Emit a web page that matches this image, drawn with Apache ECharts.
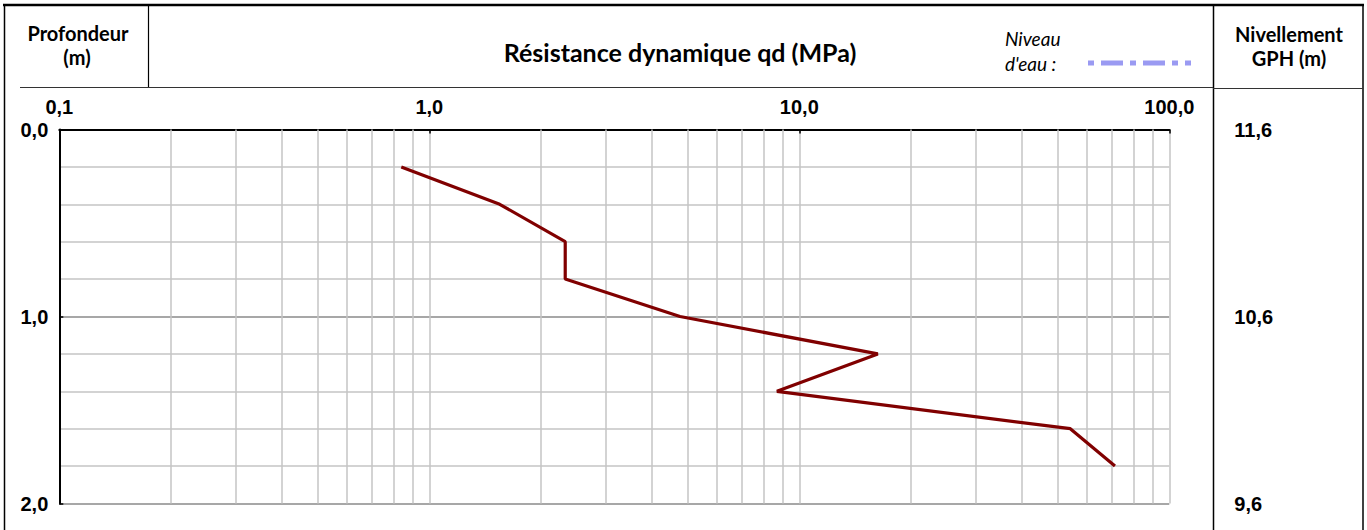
<!DOCTYPE html>
<html><head><meta charset="utf-8">
<script src="https://cdn.jsdelivr.net/npm/echarts@6/dist/echarts.min.js"></script>
<style>html,body{margin:0;padding:0;background:#fff}#c{width:1367px;height:530px}</style>
</head><body><div id="c"></div>
<script>
// Data
const depths = [0.2, 0.4, 0.6, 0.8, 1.0, 1.2, 1.4, 1.6, 1.8];
const qd = [0.84, 1.55, 2.33, 2.33, 4.76, 16.3, 8.7, 54, 71.3];
const xTickValues = [0.1, 1, 10, 100];
const xTickLabels = ['0,1', '1,0', '10,0', '100,0'];
const depthTickLabels = ['0,0', '1,0', '2,0'];
const levelTickLabels = ['11,6', '10,6', '9,6'];
const minorGridX = [0.2, 0.3, 0.4, 0.5, 0.6, 0.7, 0.8, 0.9, 2, 3, 4, 5, 6, 7, 8, 9, 20, 30, 40, 50, 60, 70, 80, 90];

const chart = echarts.init(document.getElementById('c'), null, {renderer: 'svg'});
const lblFont = {fontFamily: 'Liberation Sans, Arial, sans-serif', fontWeight: 'bold', fontSize: 20, color: '#000'};
const hdrFont = 'Lato, sans-serif';

const option = {
  animation: false,
  grid: {left: 59.3, top: 129.5, width: 1110, height: 374, containLabel: false},
  xAxis: {
    type: 'log', logBase: 10, min: 0.1, max: 100, position: 'top',
    axisLine: {show: true, lineStyle: {color: '#000', width: 2}},
    axisTick: {show: true, inside: true, length: 4, lineStyle: {color: '#000', width: 1.5}},
    axisLabel: Object.assign({margin: 13, formatter: function (v) {
      for (let i = 0; i < xTickValues.length; i++) if (Math.abs(Math.log10(v) - Math.log10(xTickValues[i])) < 1e-6) return xTickLabels[i];
      return '';
    }}, lblFont),
    splitLine: {show: true, lineStyle: {color: '#c4c4c4', width: 1.5}}
  },
  yAxis: [{
    type: 'value', min: 0, max: 2, interval: 1, inverse: true,
    axisLine: {show: true, lineStyle: {color: '#000', width: 2}},
    axisTick: {show: true, inside: true, length: 4, lineStyle: {color: '#000', width: 1.5}},
    axisLabel: Object.assign({margin: 11, formatter: function (v, i) { return depthTickLabels[Math.round(v)] || ''; }}, lblFont),
    splitLine: {show: true, lineStyle: {color: '#8a8a8a', width: 1.5}},
    minorTick: {show: false, splitNumber: 5},
    minorSplitLine: {show: true, lineStyle: {color: '#c4c4c4', width: 1.5}}
  }, {
    type: 'value', min: 0, max: 2, interval: 1, inverse: true, position: 'right',
    axisLine: {show: false}, axisTick: {show: false}, splitLine: {show: false},
    axisLabel: Object.assign({margin: 65, align: 'left', formatter: function (v) { return levelTickLabels[Math.round(v)] || ''; }}, lblFont)
  }],
  series: [{
    type: 'line', data: [], z: 1, silent: true,
    markLine: {
      silent: true, symbol: ['none', 'none'], label: {show: false},
      lineStyle: {color: '#c4c4c4', width: 1.5, type: 'solid'},
      emphasis: {disabled: true},
      data: minorGridX.map(v => ({xAxis: v}))
    }
  }, {
    type: 'line', z: 5,
    data: depths.map((d, i) => [qd[i], d]),
    showSymbol: false, symbol: 'none',
    lineStyle: {color: '#800000', width: 3.2},
    itemStyle: {color: '#800000'}
  }],
  graphic: [
    {type: 'line', shape: {x1: 3, y1: 5, x2: 1364, y2: 5}, style: {stroke: '#000', lineWidth: 2.5}},
    {type: 'line', shape: {x1: 4.5, y1: 5, x2: 4.5, y2: 530}, style: {stroke: '#000', lineWidth: 1.5}},
    {type: 'line', shape: {x1: 1363, y1: 5, x2: 1363, y2: 530}, style: {stroke: '#000', lineWidth: 1.5}},
    {type: 'line', shape: {x1: 1213.5, y1: 5, x2: 1213.5, y2: 530}, style: {stroke: '#000', lineWidth: 1.5}},
    {type: 'line', shape: {x1: 148.5, y1: 5, x2: 148.5, y2: 87}, style: {stroke: '#000', lineWidth: 1.2}},
    {type: 'line', shape: {x1: 20, y1: 87.5, x2: 1213, y2: 87.5}, style: {stroke: '#333', lineWidth: 1}},
    {type: 'line', shape: {x1: 1213, y1: 88.5, x2: 1363, y2: 88.5}, style: {stroke: '#333', lineWidth: 1}},
    {type: 'line', shape: {x1: 1088, y1: 63, x2: 1191, y2: 63}, style: {stroke: '#9a9af2', lineWidth: 5, lineDash: [6, 7, 22, 7]}},
    {type: 'text', x: 78, y: 33, style: {text: 'Profondeur', font: 'bold 20px ' + hdrFont, textAlign: 'center', textVerticalAlign: 'middle', fill: '#000'}},
    {type: 'text', x: 77, y: 57, style: {text: '(m)', font: 'bold 20px ' + hdrFont, textAlign: 'center', textVerticalAlign: 'middle', fill: '#000'}},
    {type: 'text', x: 680, y: 52, style: {text: 'Résistance dynamique qd (MPa)', font: 'bold 25px ' + hdrFont, textAlign: 'center', textVerticalAlign: 'middle', fill: '#000'}},
    {type: 'text', x: 1005, y: 38, style: {text: 'Niveau', font: 'italic 19px ' + hdrFont, textAlign: 'left', textVerticalAlign: 'middle', fill: '#000'}},
    {type: 'text', x: 1005, y: 63, style: {text: "d'eau :", font: 'italic 19px ' + hdrFont, textAlign: 'left', textVerticalAlign: 'middle', fill: '#000'}},
    {type: 'text', x: 1289, y: 34, style: {text: 'Nivellement', font: 'bold 20px ' + hdrFont, textAlign: 'center', textVerticalAlign: 'middle', fill: '#000'}},
    {type: 'text', x: 1289, y: 58, style: {text: 'GPH (m)', font: 'bold 20px ' + hdrFont, textAlign: 'center', textVerticalAlign: 'middle', fill: '#000'}}
  ]
};
chart.setOption(option);
</script>
</body></html>
